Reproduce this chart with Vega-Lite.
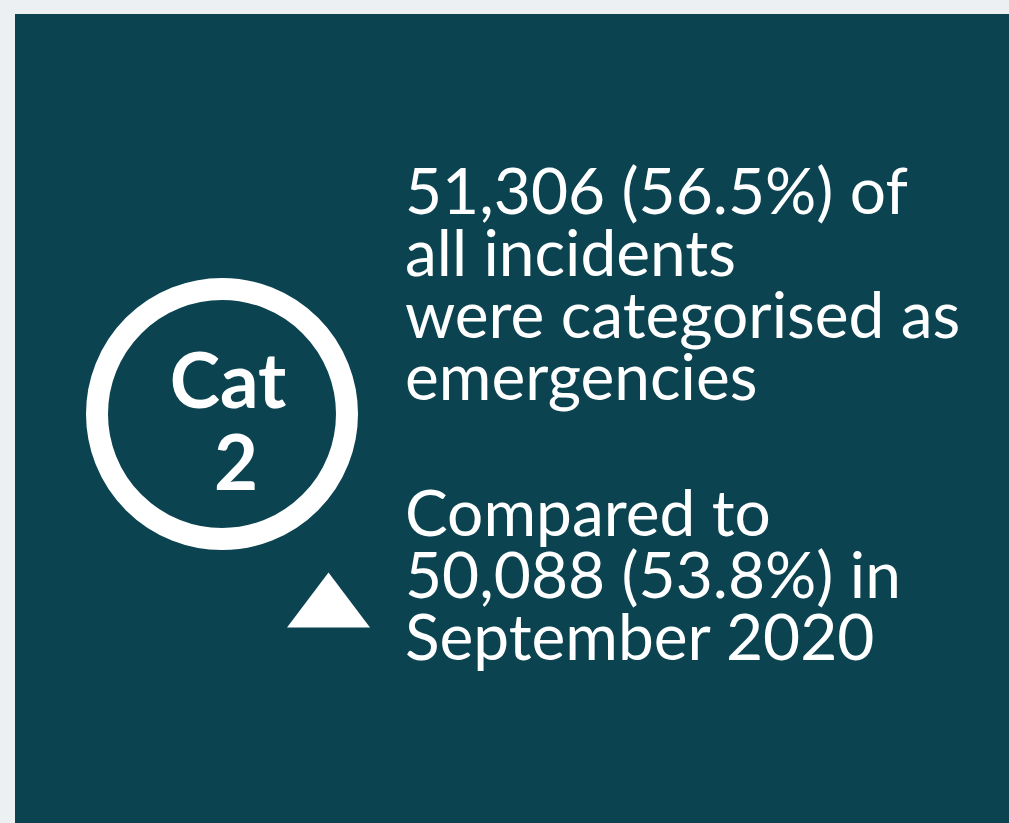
{
  "$schema": "https://vega.github.io/schema/vega-lite/v6.json",
  "width": 1009,
  "height": 823,
  "autosize": {"type": "fit", "contains": "padding"},
  "padding": 0,
  "background": "#ecf0f3",
  "config": {"view": {"stroke": null}},
  "datasets": {
    "panel": [{"x": 15, "x2": 1009, "y": 14, "y2": 823}],
    "ring": [{"x": 222, "y": 414}],
    "arrow": [{"x": 328.5, "y": 600}],
    "badge": [{"x": 228, "y": 408, "label": "Cat"}, {"x": 236, "y": 490, "label": "2"}],
    "lines": [
      {"x": 405, "y": 214, "label": "51,306 (56.5%) of\nall incidents\nwere categorised as\nemergencies"},
      {"x": 405, "y": 536, "label": "Compared to\n50,088 (53.8%) in\nSeptember 2020"}
    ]
  },
  "layer": [
    {
      "data": {"name": "panel"},
      "mark": {"type": "rect", "color": "#0b4450"},
      "encoding": {
        "x": {"field": "x", "type": "quantitative", "scale": {"domain": [0, 1009], "nice": false, "zero": false}, "axis": null},
        "x2": {"field": "x2"},
        "y": {"field": "y", "type": "quantitative", "scale": {"domain": [0, 823], "nice": false, "zero": false, "reverse": true}, "axis": null},
        "y2": {"field": "y2"}
      }
    },
    {
      "data": {"name": "ring"},
      "mark": {"type": "point", "shape": "circle", "filled": false, "stroke": "#ffffff", "strokeWidth": 22, "size": 62500, "opacity": 1},
      "encoding": {
        "x": {"field": "x", "type": "quantitative"},
        "y": {"field": "y", "type": "quantitative"}
      }
    },
    {
      "data": {"name": "arrow"},
      "mark": {"type": "point", "shape": "M0,-0.663 L-1,0.663 L1,0.663 Z", "filled": true, "fill": "#ffffff", "strokeWidth": 0, "size": 6889, "opacity": 1},
      "encoding": {
        "x": {"field": "x", "type": "quantitative"},
        "y": {"field": "y", "type": "quantitative"}
      }
    },
    {
      "data": {"name": "badge"},
      "mark": {"type": "text", "font": "Lato", "fontWeight": "bold", "fontSize": 76, "color": "#ffffff", "align": "center", "baseline": "alphabetic"},
      "encoding": {
        "x": {"field": "x", "type": "quantitative"},
        "y": {"field": "y", "type": "quantitative"},
        "text": {"field": "label"}
      }
    },
    {
      "data": {"name": "lines"},
      "mark": {"type": "text", "font": "Lato", "fontSize": 64, "color": "#ffffff", "align": "left", "baseline": "alphabetic", "lineBreak": "\n", "lineHeight": 62},
      "encoding": {
        "x": {"field": "x", "type": "quantitative"},
        "y": {"field": "y", "type": "quantitative"},
        "text": {"field": "label"}
      }
    }
  ]
}
